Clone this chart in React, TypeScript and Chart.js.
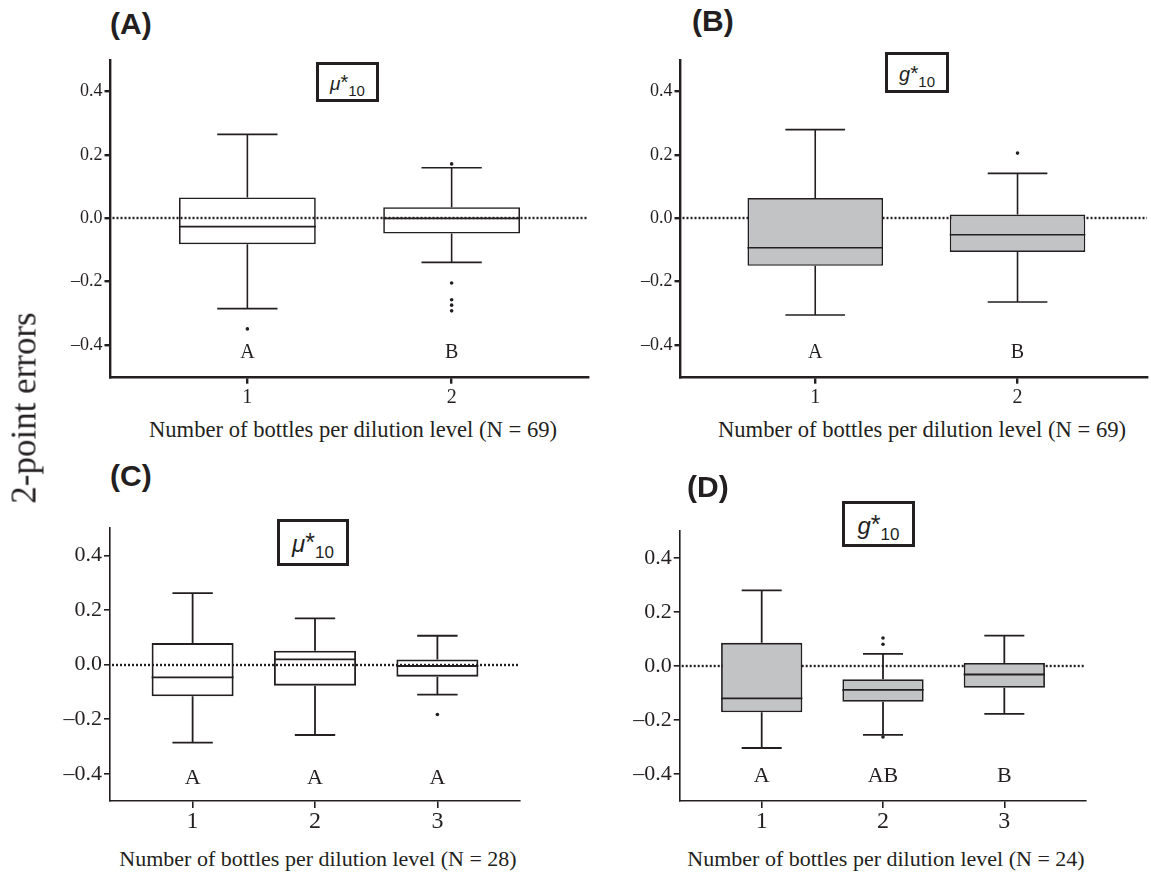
import React, { useEffect, useRef } from "react";
import { Chart, registerables } from "chart.js";

Chart.register(...registerables);

const INK = "#231f20";
const GRAY = "#c2c3c5";
const SERIF_NAME = "Liberation Serif";
const SERIF = '"Liberation Serif", "Times New Roman", serif';
const SANS = '"Liberation Sans", Arial, sans-serif';

Chart.defaults.font.family = SERIF_NAME;
Chart.defaults.color = INK;

const Y_TICKS = [-0.4, -0.2, 0, 0.2, 0.4];
const X_TITLE_69 = "Number of bottles per dilution level (N = 69)";
const X_TITLE_28 = "Number of bottles per dilution level (N = 28)";
const X_TITLE_24 = "Number of bottles per dilution level (N = 24)";
const Y_TITLE = "2-point errors";

// Panel A  (mu*10, N = 69)
const A_CATS = [1, 2];
const A_MIN = [-0.285, -0.139];
const A_Q1 = [-0.082, -0.048];
const A_MED = [-0.026, 0.0];
const A_Q3 = [0.066, 0.035];
const A_MAX = [0.265, 0.16];
const A_OUT_X = [1, 2, 2, 2, 2, 2];
const A_OUT_Y = [-0.349, 0.172, -0.204, -0.257, -0.274, -0.292];
const A_LETTERS = ["A", "B"];

// Panel B  (g*10, N = 69)
const B_CATS = [1, 2];
const B_MIN = [-0.305, -0.264];
const B_Q1 = [-0.15, -0.106];
const B_MED = [-0.093, -0.052];
const B_Q3 = [0.064, 0.012];
const B_MAX = [0.28, 0.142];
const B_OUT_X = [2];
const B_OUT_Y = [0.206];
const B_LETTERS = ["A", "B"];

// Panel C  (mu*10, N = 28)
const C_CATS = [1, 2, 3];
const C_MIN = [-0.286, -0.258, -0.11];
const C_Q1 = [-0.116, -0.077, -0.044];
const C_MED = [-0.047, 0.019, -0.005];
const C_Q3 = [0.079, 0.051, 0.019];
const C_MAX = [0.262, 0.17, 0.106];
const C_OUT_X = [3];
const C_OUT_Y = [-0.183];
const C_LETTERS = ["A", "A", "A"];

// Panel D  (g*10, N = 24)
const D_CATS = [1, 2, 3];
const D_MIN = [-0.304, -0.255, -0.178];
const D_Q1 = [-0.172, -0.133, -0.081];
const D_MED = [-0.12, -0.089, -0.032];
const D_Q3 = [0.085, -0.05, 0.011];
const D_MAX = [0.279, 0.044, 0.112];
const D_OUT_X = [2, 2, 2];
const D_OUT_Y = [0.103, 0.08, -0.263];
const D_LETTERS = ["A", "AB", "B"];

const fmtY = (v: number) => (v < 0 ? "\u2013" : "") + Math.abs(v).toFixed(1);

const boxPlugin = {
  id: "boxDecor",
  beforeDatasetsDraw(chart: any, _a: any, opts: any) {
    const { ctx, chartArea, scales } = chart;
    const y0 = Math.round(scales.y.getPixelForValue(0));
    ctx.save();
    ctx.strokeStyle = INK;
    ctx.lineWidth = opts.zeroWidth;
    ctx.setLineDash([2, 2]);
    ctx.beginPath();
    ctx.moveTo(chartArea.left + 2, y0);
    ctx.lineTo(chartArea.right, y0);
    ctx.stroke();
    ctx.restore();
  },
  afterDatasetsDraw(chart: any, _a: any, opts: any) {
    const { ctx, scales } = chart;
    const { x, y } = scales;
    const meta = chart.getDatasetMeta(0);
    const p = opts.panel;
    ctx.save();
    ctx.strokeStyle = INK;
    ctx.lineWidth = p.boxLine;
    p.cats.forEach((c: number, i: number) => {
      const el = meta.data[i];
      const xc = x.getPixelForValue(c);
      const half = el.width / 2;
      const capHalf = x.getPixelForValue(c + p.capFrac / 2) - xc;
      const pMax = y.getPixelForValue(p.maxs[i]);
      const pMin = y.getPixelForValue(p.mins[i]);
      const pQ3 = y.getPixelForValue(p.q3[i]);
      const pQ1 = y.getPixelForValue(p.q1[i]);
      const pMed = y.getPixelForValue(p.med[i]);
      ctx.beginPath();
      ctx.moveTo(xc, pQ3);
      ctx.lineTo(xc, pMax);
      ctx.moveTo(xc - capHalf, pMax);
      ctx.lineTo(xc + capHalf, pMax);
      ctx.moveTo(xc, pQ1);
      ctx.lineTo(xc, pMin);
      ctx.moveTo(xc - capHalf, pMin);
      ctx.lineTo(xc + capHalf, pMin);
      ctx.moveTo(xc - half, pMed);
      ctx.lineTo(xc + half, pMed);
      ctx.stroke();
      ctx.fillStyle = INK;
      ctx.font = `${p.letterSize}px ${SERIF}`;
      ctx.textAlign = "center";
      ctx.textBaseline = "middle";
      ctx.fillText(p.letters[i], xc, y.getPixelForValue(p.letterY));
    });
    ctx.restore();
  },
};

type Rect = { left: number; top: number; width: number; height: number };
type Area = { left: number; top: number; right: number; bottom: number };

type PanelCfg = {
  cats: number[];
  mins: number[];
  q1: number[];
  med: number[];
  q3: number[];
  maxs: number[];
  outX: number[];
  outY: number[];
  letters: string[];
  fill: string;
  xMin: number;
  xMax: number;
  letterY: number;
  canvas: Rect;
  area: Area;
  axisWidth: number;
  boxLine: number;
  yTickSize: number;
  xTickSize: number;
  xTickPad: number;
  letterSize: number;
  capFrac: number;
};

function Panel({ cfg }: { cfg: PanelCfg }) {
  const ref = useRef<HTMLCanvasElement>(null);
  useEffect(() => {
    const c = cfg;
    const yAxisW = c.area.left - c.canvas.left;
    const xAxisH = c.canvas.top + c.canvas.height - c.area.bottom;
    const chart = new Chart(ref.current as HTMLCanvasElement, {
      type: "bar",
      data: {
        datasets: [
          {
            type: "bar",
            data: c.cats.map((v, i) => ({ x: v, y: [c.q1[i], c.q3[i]] })) as any,
            backgroundColor: c.fill,
            borderColor: INK,
            borderWidth: c.boxLine,
            borderSkipped: false,
            barPercentage: 0.67,
            categoryPercentage: 1,
            order: 2,
          } as any,
          {
            type: "scatter",
            data: c.outX.map((v, i) => ({ x: v, y: c.outY[i] })),
            pointRadius: 1.8,
            pointBackgroundColor: INK,
            pointBorderWidth: 0,
            order: 1,
          } as any,
        ],
      },
      options: {
        responsive: false,
        animation: false,
        events: [],
        layout: {
          padding: {
            left: 0,
            top: c.area.top - c.canvas.top,
            right: c.canvas.left + c.canvas.width - c.area.right,
            bottom: 0,
          },
        },
        plugins: {
          legend: { display: false },
          tooltip: { enabled: false },
          boxDecor: { panel: c, zeroWidth: 2.4 },
        } as any,
        scales: {
          x: {
            type: "linear",
            min: c.xMin,
            max: c.xMax,
            offset: false,
            afterBuildTicks: (s: any) => {
              s.ticks = c.cats.map((v) => ({ value: v }));
            },
            afterFit: (s: any) => {
              s.height = xAxisH;
            },
            grid: {
              display: true,
              drawOnChartArea: false,
              drawTicks: true,
              offset: false,
              tickLength: 7,
              tickWidth: c.axisWidth,
              tickColor: INK,
              color: INK,
              lineWidth: c.axisWidth,
            },
            border: { display: true, color: INK, width: c.axisWidth },
            ticks: {
              autoSkip: false,
              maxRotation: 0,
              padding: c.xTickPad,
              color: INK,
              font: { family: SERIF_NAME, size: c.xTickSize },
              callback: (v: any) => String(v),
            },
          },
          y: {
            type: "linear",
            min: -0.5,
            max: 0.5,
            afterBuildTicks: (s: any) => {
              s.ticks = Y_TICKS.map((v) => ({ value: v }));
            },
            afterFit: (s: any) => {
              s.width = yAxisW;
            },
            grid: {
              display: true,
              drawOnChartArea: false,
              drawTicks: true,
              tickLength: 6,
              tickWidth: c.axisWidth,
              tickColor: INK,
              color: INK,
              lineWidth: c.axisWidth,
            },
            border: { display: true, color: INK, width: c.axisWidth },
            ticks: {
              padding: 2,
              color: INK,
              font: { family: SERIF_NAME, size: c.yTickSize },
              callback: (v: any) => fmtY(Number(v)),
            },
          },
        },
      } as any,
      plugins: [boxPlugin as any],
    });
    return () => chart.destroy();
  }, [cfg]);
  return (
    <canvas
      ref={ref}
      width={cfg.canvas.width}
      height={cfg.canvas.height}
      style={{
        position: "absolute",
        left: cfg.canvas.left,
        top: cfg.canvas.top,
        width: cfg.canvas.width,
        height: cfg.canvas.height,
      }}
    />
  );
}

const PANEL_A: PanelCfg = {
  cats: A_CATS, mins: A_MIN, q1: A_Q1, med: A_MED, q3: A_Q3, maxs: A_MAX,
  outX: A_OUT_X, outY: A_OUT_Y, letters: A_LETTERS, fill: "rgba(0,0,0,0)",
  xMin: 0.33, xMax: 2.67, letterY: -0.425,
  canvas: { left: 0, top: 40, width: 600, height: 372 },
  area: { left: 110.5, top: 60, right: 588.5, bottom: 376.7 },
  axisWidth: 2.4, boxLine: 1.6, yTickSize: 18, xTickSize: 20, xTickPad: 2, letterSize: 20, capFrac: 0.295,
};
const PANEL_B: PanelCfg = {
  cats: B_CATS, mins: B_MIN, q1: B_Q1, med: B_MED, q3: B_Q3, maxs: B_MAX,
  outX: B_OUT_X, outY: B_OUT_Y, letters: B_LETTERS, fill: GRAY,
  xMin: 0.334, xMax: 2.64, letterY: -0.425,
  canvas: { left: 600, top: 40, width: 551, height: 372 },
  area: { left: 680.5, top: 60, right: 1151, bottom: 376.7 },
  axisWidth: 2.4, boxLine: 1.6, yTickSize: 18, xTickSize: 20, xTickPad: 2, letterSize: 20, capFrac: 0.295,
};
const PANEL_C: PanelCfg = {
  cats: C_CATS, mins: C_MIN, q1: C_Q1, med: C_MED, q3: C_Q3, maxs: C_MAX,
  outX: C_OUT_X, outY: C_OUT_Y, letters: C_LETTERS, fill: "rgba(0,0,0,0)",
  xMin: 0.325, xMax: 3.675, letterY: -0.418,
  canvas: { left: 0, top: 500, width: 575, height: 340 },
  area: { left: 110, top: 528.3, right: 520, bottom: 801 },
  axisWidth: 1.6, boxLine: 1.8, yTickSize: 22, xTickSize: 24, xTickPad: -1, letterSize: 22, capFrac: 0.33,
};
const PANEL_D: PanelCfg = {
  cats: D_CATS, mins: D_MIN, q1: D_Q1, med: D_MED, q3: D_Q3, maxs: D_MAX,
  outX: D_OUT_X, outY: D_OUT_Y, letters: D_LETTERS, fill: GRAY,
  xMin: 0.324, xMax: 3.67, letterY: -0.41,
  canvas: { left: 600, top: 500, width: 551, height: 340 },
  area: { left: 679.7, top: 530.7, right: 1085.6, bottom: 801 },
  axisWidth: 1.6, boxLine: 1.8, yTickSize: 22, xTickSize: 24, xTickPad: -1, letterSize: 22, capFrac: 0.33,
};

function PanelLetter({ text, left, top }: { text: string; left: number; top: number }) {
  return (
    <div
      style={{
        position: "absolute", left, top, fontFamily: SANS, fontWeight: "bold",
        fontSize: 30, lineHeight: 1, color: INK, whiteSpace: "nowrap",
      }}
    >
      {text}
    </div>
  );
}

function SymBox({
  sym, left, top, width, height, big, small,
}: { sym: string; left: number; top: number; width: number; height: number; big: number; small: number }) {
  return (
    <div
      style={{
        position: "absolute", left, top, width, height, border: `3px solid ${INK}`,
        boxSizing: "border-box", display: "flex", alignItems: "center", justifyContent: "center",
        fontFamily: SANS, color: INK, lineHeight: 1, background: "#fff",
      }}
    >
      <span style={{ whiteSpace: "nowrap", position: "relative", top: 1 }}>
        <span style={{ fontStyle: "italic", fontSize: big }}>{sym}</span>
        <span style={{ fontSize: Math.round(big * 1.05), position: "relative", top: -1 }}>*</span>
        <span style={{ fontSize: small, position: "relative", top: Math.round(small * 0.38) }}>10</span>
      </span>
    </div>
  );
}

function XTitle({ text, cx, baseline, size }: { text: string; cx: number; baseline: number; size: number }) {
  return (
    <div
      style={{
        position: "absolute", left: cx, top: baseline - 0.837 * size, transform: "translateX(-50%)",
        fontFamily: SERIF, fontSize: size, lineHeight: 1, color: INK, whiteSpace: "nowrap",
      }}
    >
      {text}
    </div>
  );
}

export default function App() {
  return (
    <div style={{ position: "absolute", left: 0, top: 0, width: 1151, height: 874, background: "#fff", overflow: "hidden" }}>
      <Panel cfg={PANEL_A} />
      <Panel cfg={PANEL_B} />
      <Panel cfg={PANEL_C} />
      <Panel cfg={PANEL_D} />

      <PanelLetter text="(A)" left={110} top={9} />
      <PanelLetter text="(B)" left={692} top={6} />
      <PanelLetter text="(C)" left={110} top={461} />
      <PanelLetter text="(D)" left={687} top={472} />

      <SymBox sym="μ" left={316} top={62} width={63} height={40} big={19} small={15} />
      <SymBox sym="g" left={885} top={52} width={64} height={41} big={20} small={15} />
      <SymBox sym="μ" left={277} top={519} width={72} height={47} big={24} small={17} />
      <SymBox sym="g" left={842} top={501} width={73} height={46} big={24} small={17} />

      <XTitle text={X_TITLE_69} cx={353} baseline={438.3} size={22.6} />
      <XTitle text={X_TITLE_69} cx={922} baseline={438} size={22.6} />
      <XTitle text={X_TITLE_28} cx={318} baseline={866.5} size={22} />
      <XTitle text={X_TITLE_24} cx={886} baseline={866.5} size={22} />

      <div
        style={{
          position: "absolute", left: 24, top: 407.5, transform: "translate(-50%, -50%) rotate(-90deg)",
          fontFamily: SERIF, fontSize: 35, lineHeight: 1, color: INK, whiteSpace: "nowrap",
        }}
      >
        {Y_TITLE}
      </div>
    </div>
  );
}
